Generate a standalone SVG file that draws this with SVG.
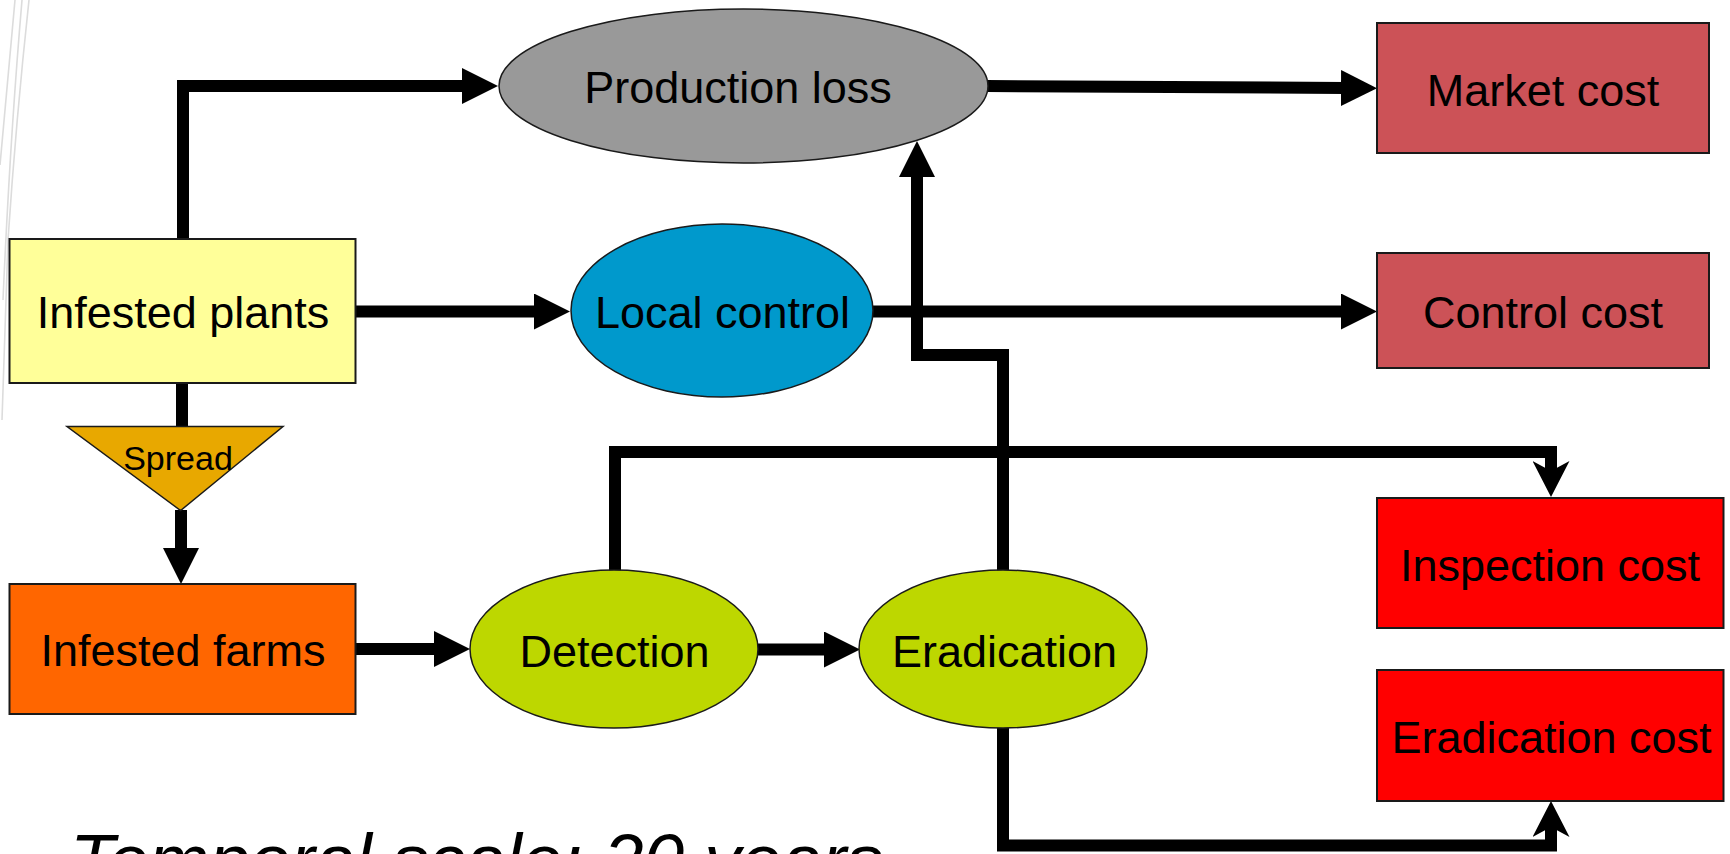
<svg xmlns="http://www.w3.org/2000/svg" width="1730" height="854" viewBox="0 0 1730 854">
<style>
.lbl{font-family:"Liberation Sans",Arial,sans-serif;font-size:45px;fill:#000;text-anchor:middle}
.box{stroke:#1a1a1a;stroke-width:2}
.ell{stroke:#1a1a1a;stroke-width:1.5}
.con{fill:none;stroke:#000;stroke-width:12;stroke-linejoin:miter;stroke-linecap:butt}
.deco{fill:none;stroke:#dcdcdc;stroke-width:1.6}
</style>
<defs>
<marker id="arr" viewBox="0 0 36 36" refX="4" refY="18" markerWidth="36" markerHeight="36" markerUnits="userSpaceOnUse" orient="auto">
<path d="M0,0 L36,18 L0,36 Z" fill="#000"/>
</marker>
<marker id="arrN" viewBox="0 0 36 37" refX="12" refY="18.5" markerWidth="36" markerHeight="37" markerUnits="userSpaceOnUse" orient="auto">
<path d="M0,0 L36,18.5 L0,37 L10,18.5 Z" fill="#000"/>
</marker>
</defs>
<rect x="0" y="0" width="1730" height="854" fill="#fff"/>
<g id="decoration">
<path class="deco" d="M29,0 Q16,120 8,240 L2,420"/>
<path class="deco" d="M15,0 L0,165"/>
<path class="deco" d="M22,0 Q10,140 3,300"/>
</g>
<g id="connectors">
<path class="con" d="M183,240 V86 H466" marker-end="url(#arr)"/>
<path class="con" d="M356,311.5 H538" marker-end="url(#arr)"/>
<path class="con" d="M182,383 V428"/>
<path class="con" d="M181,510 V552" marker-end="url(#arr)"/>
<path class="con" d="M356,649 H438" marker-end="url(#arr)"/>
<path class="con" d="M758,649.5 H828" marker-end="url(#arr)"/>
<path class="con" d="M615,571 V452 H1551 V473" marker-end="url(#arrN)"/>
<path class="con" d="M1003,571 V355 H917 V173" marker-end="url(#arr)"/>
<path class="con" d="M1003,727 V845.5 H1551 V825" marker-end="url(#arrN)"/>
<path class="con" d="M987,86 L1345,88" marker-end="url(#arr)"/>
<path class="con" d="M872,311.5 H1345" marker-end="url(#arr)"/>
</g>
<g id="infested-plants">
<rect class="box" x="9.5" y="239" width="346" height="144" fill="#FFFF99"/>
<text class="lbl" x="183" y="328">Infested plants</text>
</g>
<g id="spread">
<polygon class="ell" points="67,426.5 283,426.5 180.6,510.5" fill="#E8A800"/>
<text class="lbl" x="178" y="470" style="font-size:34px">Spread</text>
</g>
<g id="infested-farms">
<rect class="box" x="9.5" y="584" width="346" height="130" fill="#FF6600"/>
<text class="lbl" x="183" y="666">Infested farms</text>
</g>
<g id="production-loss">
<ellipse class="ell" cx="743.5" cy="86" rx="244.5" ry="77" fill="#999999"/>
<text class="lbl" x="738" y="103">Production loss</text>
</g>
<g id="local-control">
<ellipse class="ell" cx="722" cy="310.5" rx="151" ry="86.5" fill="#0099CC"/>
<text class="lbl" x="722.5" y="328">Local control</text>
</g>
<g id="detection">
<ellipse class="ell" cx="614" cy="649" rx="144" ry="79" fill="#BDD700"/>
<text class="lbl" x="614.5" y="667">Detection</text>
</g>
<g id="eradication">
<ellipse class="ell" cx="1003" cy="649" rx="144" ry="79" fill="#BDD700"/>
<text class="lbl" x="1004.5" y="667">Eradication</text>
</g>
<g id="market-cost">
<rect class="box" x="1377" y="23" width="332" height="130" fill="#CC5257"/>
<text class="lbl" x="1543" y="106">Market cost</text>
</g>
<g id="control-cost">
<rect class="box" x="1377" y="253" width="332" height="115" fill="#CC5257"/>
<text class="lbl" x="1543" y="328">Control cost</text>
</g>
<g id="inspection-cost">
<rect class="box" x="1377" y="498" width="346.5" height="130" fill="#FF0000"/>
<text class="lbl" x="1550" y="581">Inspection cost</text>
</g>
<g id="eradication-cost">
<rect class="box" x="1377" y="670" width="346.5" height="131" fill="#FF0000"/>
<text class="lbl" x="1551.5" y="753">Eradication cost</text>
</g>
<text x="70" y="885" style="font-family:'Liberation Sans',Arial,sans-serif;font-size:73px;font-style:italic;fill:#000">Temporal scale: 20 years</text>
</svg>
